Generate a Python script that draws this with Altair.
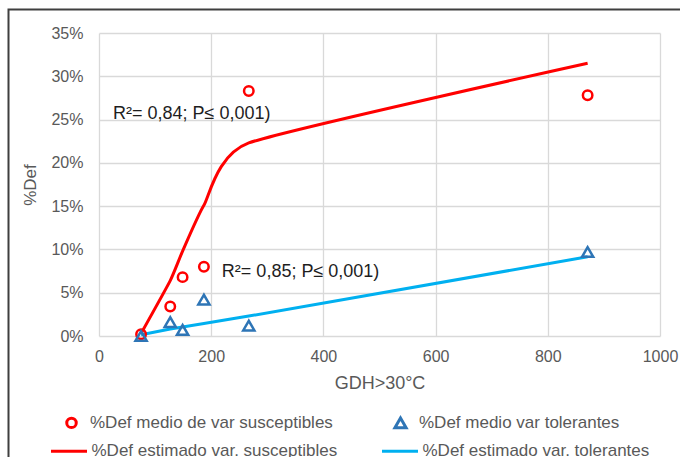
import altair as alt
import pandas as pd

# Grados-hora por encima de 30 °C en cada ensayo
gdh = [75, 127, 149, 187, 267, 871]

# % de defectos observados (medias por grupo de variedades)
def_susceptibles = [0.2, 3.4, 6.8, 8.0, 28.3, 27.8]
def_tolerantes = [0.0, 1.6, 0.7, 4.2, 1.2, 9.7]

# % de defectos estimados por el modelo ajustado
est_susceptibles = [0.3, 6.4, 9.8, 15.1, 22.3, 31.5]
est_tolerantes = [0.15, 0.8, 1.05, 1.45, 2.3, 9.15]

obs_series = ["%Def medio de var susceptibles", "%Def medio var tolerantes"]
obs_colors = ["#FF0000", "#2E75B6"]
obs_shapes = ["circle", "triangle-up"]
obs_sizes = [90, 125]

est_series = ["%Def estimado var. susceptibles", "%Def estimado var. tolerantes"]
est_colors = ["#FF0000", "#00B0F0"]

# Anotaciones de ajuste
ann_x = [25, 219]
ann_y = [25.6, 7.45]
ann_text = ["R²= 0,84; P≤ 0,001)", "R²= 0,85; P≤ 0,001)"]


def table(values, name):
    return pd.DataFrame({"gdh": gdh, "pct": [v / 100.0 for v in values], "serie": name})


obs = pd.concat([table(def_susceptibles, obs_series[0]), table(def_tolerantes, obs_series[1])])
est_s = table(est_susceptibles, est_series[0])
est_t = table(est_tolerantes, est_series[1])
ann = pd.DataFrame({"gdh": ann_x, "pct": [v / 100.0 for v in ann_y], "txt": ann_text})

grid = "#D9D9D9"
label_grey = "#595959"

x_enc = alt.X(
    "gdh:Q",
    scale=alt.Scale(domain=[0, 1000], nice=False),
    axis=alt.Axis(
        values=[0, 200, 400, 600, 800, 1000], format="d",
        grid=True, gridColor=grid, gridWidth=1.3,
        domain=False, ticks=False, labelFlush=False,
        labelFontSize=16, labelColor=label_grey, labelPadding=12,
        title="GDH>30°C", titleFontSize=18, titleColor=label_grey,
        titleFontWeight="normal", titlePadding=10,
    ),
)
y_enc = alt.Y(
    "pct:Q",
    scale=alt.Scale(domain=[0, 0.35], nice=False),
    axis=alt.Axis(
        values=[0, 0.05, 0.10, 0.15, 0.20, 0.25, 0.30, 0.35],
        format=".0%",
        grid=True, gridColor=grid, gridWidth=1.3,
        domain=False, ticks=False,
        labelFontSize=16, labelColor=label_grey, labelPadding=16,
        title="%Def", titleFontSize=17, titleColor=label_grey,
        titleFontWeight="normal", titlePadding=11,
    ),
)

legend_common = dict(
    title=None, orient="none", direction="horizontal", columns=2,
    labelFontSize=17, labelColor=label_grey, symbolStrokeWidth=3, labelLimit=400,
)
obs_legend = alt.Legend(legendX=-36, legendY=381, columnPadding=55, labelOffset=10,
                        **legend_common)
est_legend = alt.Legend(legendX=-49.5, legendY=398.5, columnPadding=38, labelOffset=3,
                        symbolType="stroke", symbolSize=1296, **legend_common)

frame = alt.Chart(alt.Data(values=[{}])).mark_rect(
    fill="transparent", stroke="#3F3F3F", strokeWidth=2
).encode(
    x=alt.value(-90.5), y=alt.value(-23.5), x2=alt.value(720), y2=alt.value(520)
)

est_stroke = alt.Stroke("serie:N", scale=alt.Scale(domain=est_series, range=est_colors),
                        legend=est_legend)

# Curva estimada (suavizada) para variedades susceptibles
line_s = alt.Chart(est_s).mark_line(
    strokeWidth=3, interpolate="cardinal", tension=0.5
).encode(x=x_enc, y=y_enc, stroke=est_stroke)
# Recta estimada para variedades tolerantes
line_t = alt.Chart(est_t).mark_line(strokeWidth=3).encode(
    x=x_enc, y=y_enc, stroke=est_stroke,
)

points = alt.Chart(obs).mark_point(filled=False, strokeWidth=2.5, opacity=1).encode(
    x=x_enc, y=y_enc,
    color=alt.Color("serie:N", scale=alt.Scale(domain=obs_series, range=obs_colors),
                    legend=obs_legend),
    shape=alt.Shape("serie:N", scale=alt.Scale(domain=obs_series, range=obs_shapes),
                    legend=obs_legend),
    size=alt.Size("serie:N", scale=alt.Scale(domain=obs_series, range=obs_sizes),
                  legend=obs_legend),
)

labels = alt.Chart(ann).mark_text(
    align="left", baseline="middle", fontSize=18, color="#1E1E1E"
).encode(x="gdh:Q", y="pct:Q", text="txt:N")

chart = alt.layer(frame, line_s, line_t, points, labels).properties(
    width=561, height=303,
    autosize=alt.AutoSizeParams(type="none"),
    padding={"left": 99, "top": 33, "right": 20, "bottom": 121},
    background="white",
).configure(font="Liberation Sans").configure_view(stroke=None)

chart.save("out.html", embed_options={"renderer": "svg", "actions": False})
